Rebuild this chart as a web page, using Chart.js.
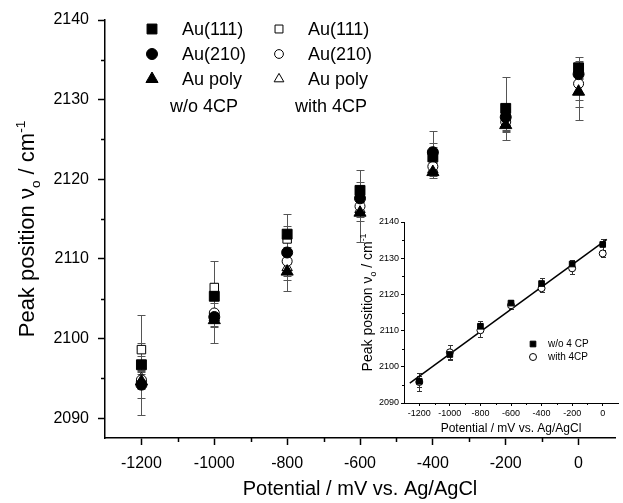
<!DOCTYPE html>
<html>
<head>
<meta charset="utf-8">
<script src="https://cdn.jsdelivr.net/npm/chart.js@4.4.1/dist/chart.umd.min.js"></script>
<style>
html, body { margin: 0; padding: 0; background: #fff; overflow: hidden; }
#wrap { position: relative; width: 623px; height: 503px; }
#main { position: absolute; left: 0; top: 0; }
#inset { position: absolute; left: 340px; top: 200px; }
</style>
</head>
<body>
<div id="wrap">
  <canvas id="main" width="623" height="503"></canvas>
  <canvas id="inset" width="283" height="240"></canvas>
</div>
<script>
// potentials (mV vs Ag/AgCl)
const potentials = [-1200, -1000, -800, -600, -400, -200, 0];

// main plot: peak positions (cm-1) and error bars
const au111Wo  = [2096.7, 2105.3, 2113.1, 2118.6, 2122.8, 2128.9, 2134.0];
const au210Wo  = [2094.2, 2102.7, 2110.8, 2117.6, 2123.4, 2127.8, 2133.2];
const polyWo   = [2094.6, 2102.3, 2108.4, 2115.8, 2120.9, 2126.8, 2131.0];
const au111W   = [2098.6, 2106.4, 2112.5, 2118.2, 2123.0, 2128.5, 2133.6];
const au210W   = [2094.8, 2103.2, 2109.7, 2116.6, 2121.6, 2127.2, 2132.0];
const polyW    = [2095.0, 2102.6, 2108.9, 2116.2, 2121.2, 2126.9, 2131.0];

const au111WoErr = [6.3, 0.8, 1.0, 1.0, 1.7, 4.0, 1.3];
const au210WoErr = [1.7, 0.8, 4.8, 1.0, 2.6, 1.0, 1.0];
const polyWoErr  = [1.0, 0.8, 1.0, 1.0, 0.5, 0.8, 3.5];
const au111WErr  = [0.8, 3.3, 1.0, 1.0, 1.0, 1.0, 1.0];
const au210WErr  = [1.0, 3.8, 1.0, 4.5, 1.0, 1.0, 2.9];
const polyWErr   = [1.0, 1.0, 1.0, 1.0, 1.0, 1.0, 1.0];

// inset: averaged values and linear fit
const insetWo    = [2096.0, 2103.4, 2111.2, 2117.6, 2123.0, 2128.4, 2133.8];
const insetWoErr = [1.5, 1.3, 1.5, 0.8, 1.6, 1.0, 1.5];
const insetW     = [2095.8, 2104.0, 2110.1, 2117.0, 2121.7, 2127.2, 2131.3];
const insetWErr  = [2.4, 2.0, 2.0, 0.9, 1.0, 1.6, 1.0];
const fitX = [-1262, 27];
const fitY = [2095.5, 2135.2];

// axis ticks
const xTicks = [-1200, -1000, -800, -600, -400, -200, 0];
const xMinor = [-1100, -900, -700, -500, -300, -100];
const yTicks = [2090, 2100, 2110, 2120, 2130, 2140];
const yMinor = [2095, 2105, 2115, 2125, 2135];

const legendLabels = ['Au(111)', 'Au(210)', 'Au poly'];
const legendGroups = ['w/o 4CP', 'with 4CP'];
const insetLabels = ['w/o 4 CP', 'with 4CP'];

Chart.defaults.font.family = '"Liberation Sans", Arial, sans-serif';
Chart.defaults.color = '#000';

const pts = ys => potentials.map((x, i) => ({ x: x, y: ys[i] }));

function filled(label, ys, errs, style, r) {
  return { label, data: pts(ys), errs, pointStyle: style, pointRadius: r,
    backgroundColor: '#000', borderColor: '#000', borderWidth: 1, showLine: false };
}
function open(label, ys, errs, style, r) {
  return { label, data: pts(ys), errs, pointStyle: style, pointRadius: r,
    backgroundColor: '#fff', borderColor: '#000', borderWidth: 1, showLine: false };
}

// error bars under the markers
function errorBars(color, cap) {
  return {
    id: 'errorBars',
    beforeDatasetsDraw(chart) {
      const ctx = chart.ctx, xs = chart.scales.x, ysc = chart.scales.y;
      ctx.save();
      ctx.strokeStyle = color;
      ctx.lineWidth = 1;
      chart.data.datasets.forEach(ds => {
        if (!ds.errs) return;
        ds.data.forEach((p, i) => {
          const e = ds.errs[i];
          const px = Math.round(xs.getPixelForValue(p.x)) + 0.5;
          const top = Math.round(ysc.getPixelForValue(p.y + e)) + 0.5;
          const bot = Math.round(ysc.getPixelForValue(p.y - e)) + 0.5;
          ctx.beginPath();
          ctx.moveTo(px, top); ctx.lineTo(px, bot);
          ctx.moveTo(px - cap, top); ctx.lineTo(px + cap, top);
          ctx.moveTo(px - cap, bot); ctx.lineTo(px + cap, bot);
          ctx.stroke();
        });
      });
      ctx.restore();
    }
  };
}

// short unlabeled ticks
function minorTicks(len, width) {
  return {
    id: 'minorTicks',
    afterDraw(chart) {
      const ctx = chart.ctx, a = chart.chartArea;
      const xs = chart.scales.x, ysc = chart.scales.y;
      ctx.save();
      ctx.strokeStyle = '#000';
      ctx.lineWidth = width;
      ctx.beginPath();
      xMinor.forEach(v => {
        const px = Math.round(xs.getPixelForValue(v)) + 0.5;
        ctx.moveTo(px, a.bottom); ctx.lineTo(px, a.bottom + len);
      });
      yMinor.forEach(v => {
        const py = Math.round(ysc.getPixelForValue(v)) + 0.5;
        ctx.moveTo(a.left, py); ctx.lineTo(a.left - len, py);
      });
      ctx.stroke();
      ctx.restore();
    }
  };
}

// rotated y title with subscript o and superscript -1
function yTitle(cx, size, shift) {
  return {
    id: 'yTitle',
    afterDraw(chart) {
      const ctx = chart.ctx, a = chart.chartArea;
      const parts = [
        { t: 'Peak position \u03bd', s: 1, dy: 0 },
        { t: 'o', s: 0.62, dy: 0.28 },
        { t: ' / cm', s: 1, dy: 0 },
        { t: '-1', s: 0.62, dy: -0.42 }
      ];
      const fam = Chart.defaults.font.family;
      ctx.save();
      let total = 0;
      parts.forEach(p => { ctx.font = (size * p.s) + 'px ' + fam; p.w = ctx.measureText(p.t).width; total += p.w; });
      ctx.translate(cx, (a.top + a.bottom) / 2 + shift);
      ctx.rotate(-Math.PI / 2);
      ctx.fillStyle = '#000';
      ctx.textBaseline = 'alphabetic';
      let x = -total / 2;
      parts.forEach(p => {
        ctx.font = (size * p.s) + 'px ' + fam;
        ctx.fillText(p.t, x, size * 0.36 + p.dy * size);
        x += p.w;
      });
      ctx.restore();
    }
  };
}

const mainLegend = {
  id: 'mainLegend',
  afterDraw(chart) {
    const ctx = chart.ctx;
    const fam = Chart.defaults.font.family;
    const styles = [['rect', 7], ['circle', 5.5], ['triangle', 7]];
    const rows = [29, 54, 79];
    const cols = [{ mx: 152, tx: 182, fill: '#000' }, { mx: 279, tx: 308, fill: '#fff' }];
    ctx.save();
    ctx.font = '18px ' + fam;
    ctx.textBaseline = 'middle';
    cols.forEach((c, ci) => {
      rows.forEach((ry, ri) => {
        ctx.fillStyle = c.fill;
        ctx.strokeStyle = '#000';
        ctx.lineWidth = 1;
        const r = styles[ri][1] * (ci === 0 ? 1 : 0.8);
        Chart.helpers.drawPoint(ctx, { pointStyle: styles[ri][0], radius: r, rotation: 0, borderWidth: 1 }, c.mx, ry);
        ctx.fillStyle = '#000';
        ctx.fillText(legendLabels[ri], c.tx, ry + 1);
      });
    });
    ctx.fillText(legendGroups[0], 170, 107);
    ctx.fillText(legendGroups[1], 295, 107);
    ctx.restore();
  }
};

const insetLegend = {
  id: 'insetLegend',
  afterDraw(chart) {
    const ctx = chart.ctx;
    ctx.save();
    ctx.font = '10px ' + Chart.defaults.font.family;
    ctx.textBaseline = 'middle';
    ctx.strokeStyle = '#000';
    ctx.lineWidth = 1;
    ctx.fillStyle = '#000';
    Chart.helpers.drawPoint(ctx, { pointStyle: 'rect', radius: 4, rotation: 0, borderWidth: 1 }, 193, 144);
    ctx.fillStyle = '#fff';
    Chart.helpers.drawPoint(ctx, { pointStyle: 'circle', radius: 3.5, rotation: 0, borderWidth: 1 }, 193, 157);
    ctx.fillStyle = '#000';
    ctx.fillText(insetLabels[0], 208, 144);
    ctx.fillText(insetLabels[1], 208, 157);
    ctx.restore();
  }
};

function setTicks(vals) {
  return scale => { scale.ticks = vals.map(v => ({ value: v })); };
}
const plain = v => String(v);

// main chart
new Chart(document.getElementById('main'), {
  type: 'scatter',
  data: {
    datasets: [
      filled('Au(111) w/o 4CP', au111Wo, au111WoErr, 'rect', 7),
      filled('Au(210) w/o 4CP', au210Wo, au210WoErr, 'circle', 5.5),
      filled('Au poly w/o 4CP', polyWo, polyWoErr, 'triangle', 7),
      open('Au(111) with 4CP', au111W, au111WErr, 'rect', 6),
      open('Au(210) with 4CP', au210W, au210WErr, 'circle', 5),
      open('Au poly with 4CP', polyW, polyWErr, 'triangle', 6)
    ]
  },
  options: {
    responsive: false,
    animation: false,
    devicePixelRatio: 1,
    layout: { padding: { top: 20, left: 0, right: 0, bottom: 0 } },
    plugins: { legend: { display: false }, tooltip: { enabled: false } },
    scales: {
      x: {
        type: 'linear', min: -1300, max: 100,
        afterBuildTicks: setTicks(xTicks),
        afterFit: s => { s.height = 65; },
        grid: { drawOnChartArea: false, drawTicks: true, tickLength: 7, color: '#000', tickWidth: 1.5 },
        border: { color: '#000', width: 1.5 },
        ticks: { font: { size: 16 }, padding: 9, maxRotation: 0, callback: plain },
        title: { display: true, text: 'Potential / mV vs. Ag/AgCl', font: { size: 20 }, padding: { top: 0, bottom: 2 } }
      },
      y: {
        type: 'linear', min: 2087.5, max: 2140,
        afterBuildTicks: setTicks(yTicks),
        afterFit: s => { s.width = 105; },
        grid: { drawOnChartArea: false, drawTicks: true, tickLength: 7, color: '#000', tickWidth: 1.5 },
        border: { color: '#000', width: 1.5 },
        ticks: { font: { size: 16 }, padding: 9, callback: plain }
      }
    }
  },
  plugins: [errorBars('#555', 4), minorTicks(4, 1.5), yTitle(26, 22, 0), mainLegend]
});

// inset chart
new Chart(document.getElementById('inset'), {
  type: 'scatter',
  data: {
    datasets: [
      { label: 'w/o 4 CP', data: pts(insetWo), errs: insetWoErr, pointStyle: 'rect', pointRadius: 4,
        backgroundColor: '#000', borderColor: '#000', borderWidth: 1, showLine: false },
      { label: 'with 4CP', data: pts(insetW), errs: insetWErr, pointStyle: 'circle', pointRadius: 3.5,
        backgroundColor: '#fff', borderColor: '#000', borderWidth: 1, showLine: false },
      { label: 'fit', data: fitX.map((x, i) => ({ x: x, y: fitY[i] })), showLine: true,
        borderColor: '#000', borderWidth: 1.5, pointRadius: 0 }
    ]
  },
  options: {
    responsive: false,
    animation: false,
    devicePixelRatio: 1,
    layout: { padding: { top: 22, left: 0, right: 0, bottom: 0 } },
    plugins: { legend: { display: false }, tooltip: { enabled: false } },
    scales: {
      x: {
        type: 'linear', min: -1300, max: 100,
        afterBuildTicks: setTicks(xTicks),
        afterFit: s => { s.height = 37; },
        grid: { drawOnChartArea: false, drawTicks: true, tickLength: 3, color: '#000' },
        border: { color: '#000', width: 1 },
        ticks: { font: { size: 9 }, padding: 2, maxRotation: 0, callback: plain },
        title: { display: true, text: 'Potential / mV vs. Ag/AgCl', font: { size: 12 }, padding: { top: 0, bottom: 4 } }
      },
      y: {
        type: 'linear', min: 2090, max: 2140,
        afterBuildTicks: setTicks(yTicks),
        afterFit: s => { s.width = 64; },
        grid: { drawOnChartArea: false, drawTicks: true, tickLength: 3, color: '#000' },
        border: { color: '#000', width: 1 },
        ticks: { font: { size: 9 }, padding: 2, callback: plain }
      }
    }
  },
  plugins: [errorBars('#333', 2.5), minorTicks(2, 1), yTitle(27, 14, -10), insetLegend]
});
</script>
</body>
</html>
